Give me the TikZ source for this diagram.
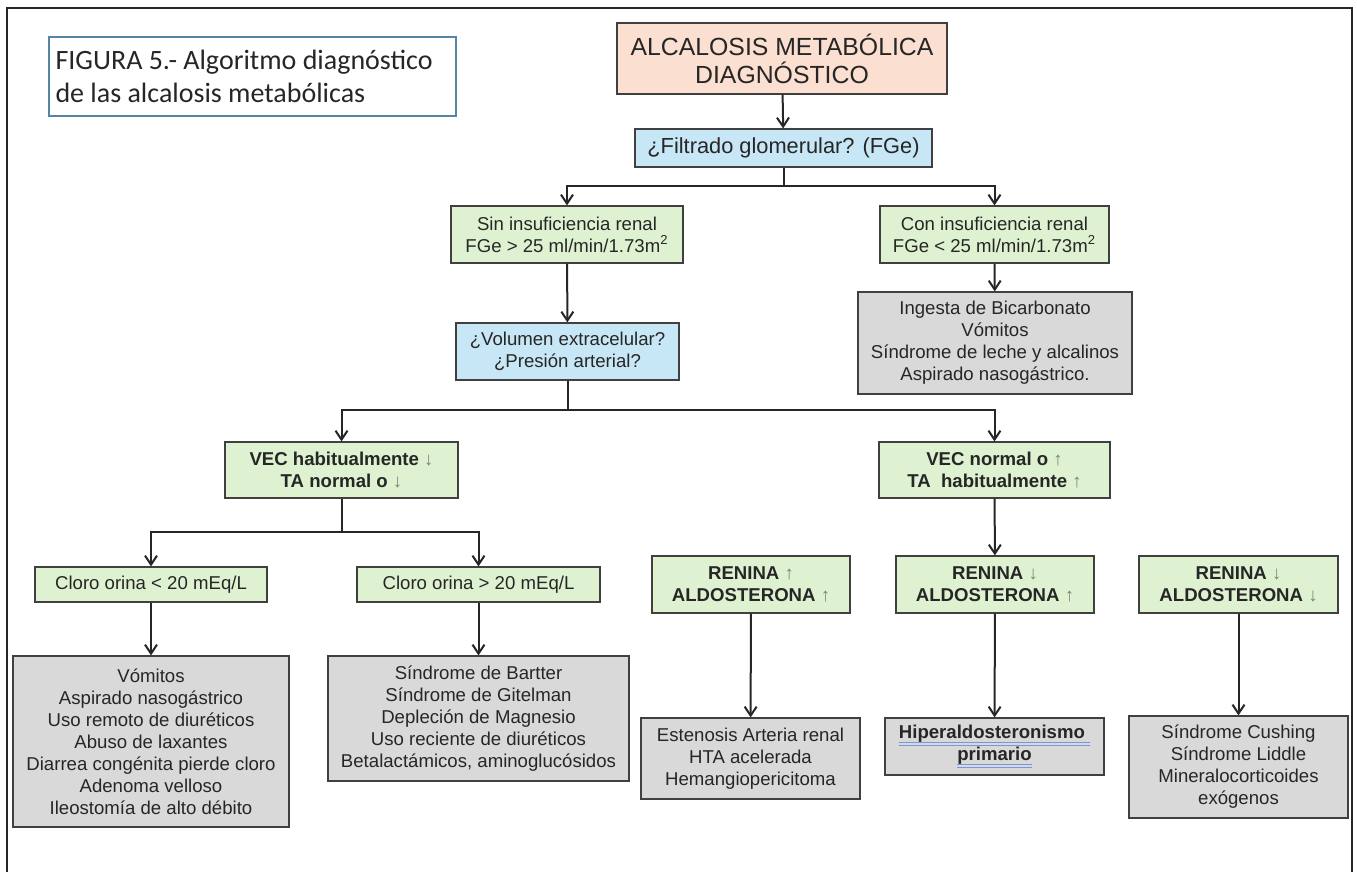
\documentclass[tikz,border=0pt]{standalone}
\usepackage{fontspec}
\setmainfont{Liberation Sans}
\newfontfamily\titlefont{Carlito}
\usetikzlibrary{arrows.meta}

\definecolor{salmonfill}{RGB}{251,223,208}
\definecolor{bluefill}{RGB}{200,231,246}
\definecolor{greenfill}{RGB}{222,242,209}
\definecolor{grayfill}{RGB}{217,217,217}
\definecolor{titleframe}{RGB}{84,134,164}
\definecolor{arrowsign}{RGB}{120,135,115}
\definecolor{spellblue}{RGB}{120,150,220}

\newcommand\flechab{{\mdseries\color{arrowsign}↓}}
\newcommand\flechaa{{\mdseries\color{arrowsign}↑}}
\newcommand\titlestyle{\titlefont\fontsize{14}{16.4}\selectfont\hyphenpenalty 10000\relax}
\newsavebox\spellbox
\newcommand\spellmark[1]{\sbox\spellbox{#1}\rlap{\usebox\spellbox}%
  \textcolor{spellblue}{\rlap{\rule[-2.2pt]{\wd\spellbox}{0.45pt}}\rule[-3.4pt]{\wd\spellbox}{0.45pt}}}

\begin{document}
\begin{tikzpicture}[x=0.5pt,y=-0.5pt,
    box/.style={draw=black!75, line width=0.6pt, align=center, inner sep=2pt,
      text=black!85, font=\fontsize{9.3}{11}\selectfont},
    greenbox/.style={box, fill=greenfill},
    graybox/.style={box, fill=grayfill},
    bluebox/.style={box, fill=bluefill},
    link/.style={line width=1pt, black!85},
    arr/.style={link, -{Straight Barb[length=4.5pt,width=6pt]}}]
    \useasboundingbox (0,0) rectangle (1357,872);

    % Outer frame
    \draw[line width=1.3pt, black!85] (7,872) |- (1352,8) -- (1352,872);

    % Caption
    \node[draw=titleframe, line width=0.6pt, text width=197pt, inner xsep=3.25pt,
      minimum height=39.5pt, align=flush left, text=black!85,
      font=\titlestyle] (caption) at (252.5,76.5)
      {FIGURA 5.- Algoritmo diagnóstico\\de las alcalosis metabólicas};

    % Top of the tree
    \node[box, fill=salmonfill, minimum width=165pt, minimum height=35.5pt,
      font=\fontsize{12.4}{14}\selectfont] (inicio) at (782,58.5)
      {ALCALOSIS METABÓLICA\\DIAGNÓSTICO};
    \node[bluebox, minimum width=148.5pt, minimum height=19pt,
      font=\fontsize{10.9}{13}\selectfont] (filtrado) at (783.5,148)
      {¿Filtrado glomerular? (FGe)};

    % Renal function
    \node[greenbox, minimum width=116pt, minimum height=28.5pt] (sinir) at (567,234.5)
      {Sin insuficiencia renal\\FGe > 25 ml/min/1.73m\textsuperscript{2}};
    \node[greenbox, minimum width=114.5pt, minimum height=28.5pt] (conir) at (994.5,234.5)
      {Con insuficiencia renal\\FGe < 25 ml/min/1.73m\textsuperscript{2}};
    \node[graybox, minimum width=137pt, minimum height=51pt] (ingesta) at (995,343)
      {Ingesta de Bicarbonato\\Vómitos\\Síndrome de leche y alcalinos\\Aspirado nasogástrico.};
    \node[bluebox, minimum width=111.5pt, minimum height=28.5pt] (volumen) at (567.5,351.5)
      {¿Volumen extracelular?\\¿Presión arterial?};

    % Volume branches
    \node[greenbox, minimum width=116.5pt, minimum height=28pt, font=\bfseries\fontsize{9.3}{11}\selectfont]
      (vecbajo) at (341.5,470) {VEC habitualmente \flechab\\TA normal o \flechab};
    \node[greenbox, minimum width=115.5pt, minimum height=28pt, font=\bfseries\fontsize{9.3}{11}\selectfont]
      (vecalto) at (994.5,470) {VEC normal o \flechaa\\TA\ \ habitualmente \flechaa};

    % Urine chloride
    \node[greenbox, minimum width=116pt, minimum height=17.5pt] (clorob) at (151,584.5)
      {Cloro orina < 20 mEq/L};
    \node[greenbox, minimum width=121.5pt, minimum height=17.5pt] (cloroa) at (478.5,584.5)
      {Cloro orina > 20 mEq/L};

    % Renin / aldosterone
    \node[greenbox, minimum width=99pt, minimum height=28.5pt, font=\bfseries\fontsize{9.3}{11}\selectfont]
      (renina1) at (751,584.5) {RENINA \flechaa\\ALDOSTERONA \flechaa};
    \node[greenbox, minimum width=99pt, minimum height=28.5pt, font=\bfseries\fontsize{9.3}{11}\selectfont]
      (renina2) at (995,584.5) {RENINA \flechab\\ALDOSTERONA \flechaa};
    \node[greenbox, minimum width=99.5pt, minimum height=28.5pt, font=\bfseries\fontsize{9.3}{11}\selectfont]
      (renina3) at (1238.5,584.5) {RENINA \flechab\\ALDOSTERONA \flechab};

    % Causes
    \node[graybox, minimum width=138pt, minimum height=85.5pt] (causas1) at (151,741.5)
      {Vómitos\\Aspirado nasogástrico\\Uso remoto de diuréticos\\Abuso de laxantes\\Diarrea congénita pierde cloro\\Adenoma velloso\\Ileostomía de alto débito};
    \node[graybox, minimum width=150.5pt, minimum height=62.5pt] (causas2) at (478.5,718.5)
      {Síndrome de Bartter\\Síndrome de Gitelman\\Depleción de Magnesio\\Uso reciente de diuréticos\\Betalactámicos, aminoglucósidos};
    \node[graybox, minimum width=109.5pt, minimum height=40.5pt] (causas3) at (750.5,758.5)
      {Estenosis Arteria renal\\HTA acelerada\\Hemangiopericitoma};
    \node[graybox, minimum width=109.5pt, minimum height=28.5pt, font=\bfseries\fontsize{9.3}{11}\selectfont]
      (causas4) at (994.5,746.5) {\spellmark{Hiperaldosteronismo\ }\\\spellmark{primario}};
    \node[graybox, minimum width=109.5pt, minimum height=51pt] (causas5) at (1238.5,767)
      {Síndrome Cushing\\Síndrome Liddle\\Mineralocorticoides\\exógenos};

    % Branch points
    \coordinate (rama1) at (783.5,186);
    \coordinate (rama2) at (567.5,410);
    \coordinate (rama3) at (341.5,532);

    % Connectors
    \draw[arr] (inicio) -- (filtrado);
    \draw[link] (filtrado) -- (rama1);
    \draw[arr] (rama1) -| (sinir);
    \draw[arr] (rama1) -| (conir);
    \draw[arr] (sinir) -- (volumen);
    \draw[arr] (conir) -- (ingesta);
    \draw[link] (volumen) -- (rama2);
    \draw[arr] (rama2) -| (vecbajo);
    \draw[arr] (rama2) -| (vecalto);
    \draw[link] (vecbajo) -- (rama3);
    \draw[arr] (rama3) -| (clorob);
    \draw[arr] (rama3) -| (cloroa);
    \draw[arr] (vecalto) -- (renina2);
    \draw[arr] (clorob) -- (causas1);
    \draw[arr] (cloroa) -- (causas2);
    \draw[arr] (renina1) -- (causas3);
    \draw[arr] (renina2) -- (causas4);
    \draw[arr] (renina3) -- (causas5);
\end{tikzpicture}
\end{document}
